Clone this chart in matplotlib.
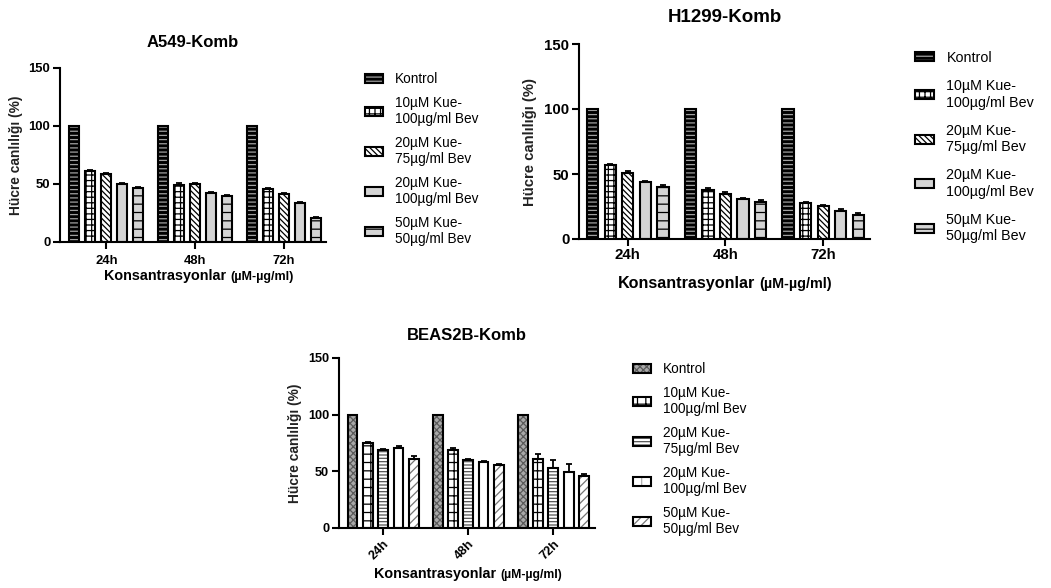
import matplotlib
matplotlib.use("Agg")
import matplotlib.pyplot as plt
from matplotlib.patches import Patch
import numpy as np

plt.rcParams['font.family'] = ['Liberation Sans', 'DejaVu Sans']
plt.rcParams['hatch.linewidth'] = 0.9

W, H = 1051, 588

groups = ['24h', '48h', '72h']
series = ['Kontrol', '10µM Kue-\n100µg/ml Bev', '20µM Kue-\n75µg/ml Bev',
          '20µM Kue-\n100µg/ml Bev', '50µM Kue-\n50µg/ml Bev']

# rows = series, columns = 24h / 48h / 72h
a549_vals = [[100, 100, 100],
             [61.3, 49.3, 45.6],
             [58.7, 49.9, 41.3],
             [50.1, 42.1, 34.0],
             [46.4, 39.8, 20.8]]
a549_err = [[0, 0, 0],
            [0.8, 1.2, 1.0],
            [1.2, 0.8, 1.2],
            [0.8, 1.0, 0.5],
            [1.2, 0.8, 1.0]]

h1299_vals = [[100, 100, 100],
              [56.6, 38.0, 27.8],
              [51.0, 35.0, 25.5],
              [43.8, 31.0, 21.4],
              [40.0, 28.3, 18.7]]
h1299_err = [[0, 0, 0],
             [0.8, 1.2, 1.0],
             [1.5, 1.0, 0.8],
             [0.5, 0.8, 2.0],
             [1.2, 2.0, 1.5]]

beas_vals = [[100, 100, 100],
             [74.7, 68.6, 61.3],
             [69.0, 59.8, 53.0],
             [71.0, 58.3, 49.4],
             [60.8, 55.4, 45.5]]
beas_err = [[0, 0, 0],
            [1.5, 2.0, 4.0],
            [1.0, 1.0, 7.0],
            [1.5, 0.8, 7.0],
            [3.0, 1.0, 2.0]]

# (face, hatch, hatch colour) for each series
style_a = [('black', '----', '#a0a0a0'),
           ('white', '+++', 'black'),
           ('white', '\\\\\\\\\\\\', 'black'),
           ('#d4d4d4', '', '#d4d4d4'),
           ('#d4d4d4', '--', 'black')]
style_b = [('#a8a8a8', 'xxxxx', '#5a5a5a'),
           ('white', '++', 'black'),
           ('white', '-----', '#555555'),
           ('white', '|', '#b0b0b0'),
           ('white', '////', '#777777')]


def rect(left, top, right, bottom):
    return [left / W, 1 - bottom / H, (right - left) / W, (bottom - top) / H]


def draw_panel(fig, box, vals, err, styles, title, fs, title_fs, ylab_fs, xlim,
               title_pad, ylab_pad, xtick_pad, rot=0):
    ax = fig.add_axes(rect(*box))
    x = np.arange(len(groups))
    step, width = 0.18, 0.115
    for i, (v, e, st) in enumerate(zip(vals, err, styles)):
        face, hatch, hcol = st
        xi = x + (i - 2) * step
        ax.bar(xi, v, width, color=face, edgecolor=hcol, hatch=hatch, linewidth=0, zorder=2)
        ax.bar(xi, v, width, fill=False, edgecolor='black', linewidth=1.5, zorder=3)
        if any(e):
            ax.errorbar(xi, v, yerr=[np.zeros(len(e)), e], fmt='none', ecolor='black',
                        elinewidth=1.3, capsize=2.5, capthick=1.3, zorder=4)
    ax.set_xlim(*xlim)
    ax.set_ylim(0, 150)
    ax.set_yticks([0, 50, 100, 150])
    ax.set_xticks(x)
    if rot:
        ax.set_xticklabels(groups, rotation=rot, ha='right', rotation_mode='anchor')
    else:
        ax.set_xticklabels(groups)
    for s in ['top', 'right']:
        ax.spines[s].set_visible(False)
    for s in ['left', 'bottom']:
        ax.spines[s].set_linewidth(1.5)
    ax.tick_params(axis='y', length=5, width=1.5, pad=2, labelsize=fs)
    ax.tick_params(axis='x', length=5, width=1.5, pad=xtick_pad, labelsize=fs)
    for lab in ax.get_xticklabels() + ax.get_yticklabels():
        lab.set_fontweight('bold')
    ax.set_title(title, fontsize=title_fs, fontweight='bold', pad=title_pad)
    ax.set_ylabel('Hücre canlılığı (%)', fontsize=ylab_fs, fontweight='bold',
                  labelpad=ylab_pad, color='#222222')
    return ax


def xlabel(fig, split, base, fs_main, fs_unit):
    fig.text((split - 2) / W, 1 - base / H, 'Konsantrasyonlar', ha='right', va='baseline',
             fontsize=fs_main, fontweight='bold')
    fig.text((split + 2) / W, 1 - base / H, '(µM-µg/ml)', ha='left', va='baseline',
             fontsize=fs_unit, fontweight='bold')


def legend(fig, left, top, styles, fs, spacing):
    handles = []
    for face, hatch, hcol in styles:
        p1 = Patch(facecolor=face, edgecolor=hcol, hatch=hatch, linewidth=0)
        p2 = Patch(facecolor='none', edgecolor='black', linewidth=1.5)
        handles.append((p1, p2))
    fig.legend(handles, series, loc='upper left', bbox_to_anchor=(left / W, 1 - top / H),
               frameon=False, fontsize=fs, borderpad=0, borderaxespad=0,
               handlelength=1.35, handleheight=0.6, handletextpad=0.85,
               labelspacing=spacing)


fig = plt.figure(figsize=(W / 100, H / 100), dpi=100)

draw_panel(fig, (60, 68, 326, 242), a549_vals, a549_err, style_a, 'A549-Komb', 9.4, 12, 9.9,
           (-0.52, 2.47), 15, 4, 4)
xlabel(fig, 228, 280, 10.35, 9)
legend(fig, 365, 72, style_a, 9.8, 0.72)

draw_panel(fig, (579, 44, 870, 239), h1299_vals, h1299_err, style_a, 'H1299-Komb', 10.8, 13.5,
           10.7, (-0.5, 2.48), 16, 5, 1.5)
xlabel(fig, 757, 288, 11.6, 10.4)
legend(fig, 915, 51, style_a, 10.3, 1.0)

draw_panel(fig, (339, 358, 595, 528), beas_vals, beas_err, style_b, 'BEAS2B-Komb', 9.2, 12, 9.9,
           (-0.52, 2.49), 13, 4, 2, rot=45)
xlabel(fig, 498, 578, 10.35, 8.8)
legend(fig, 633, 362, style_b, 9.8, 0.72)

fig.savefig('out.png', dpi=100, facecolor='white')
